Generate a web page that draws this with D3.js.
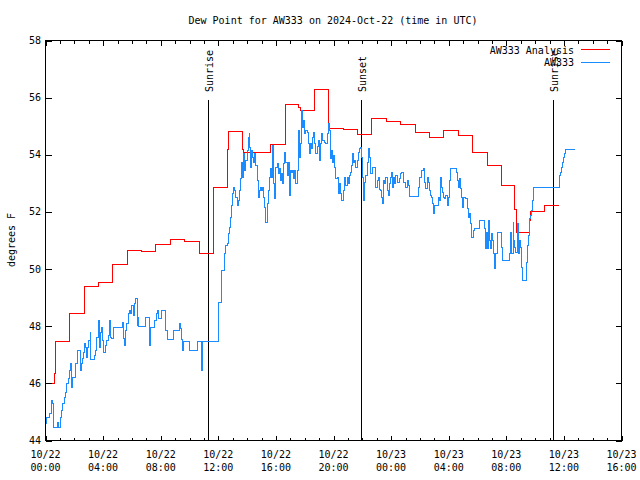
<!DOCTYPE html>
<html><head><meta charset="utf-8">
<script src="https://cdn.jsdelivr.net/npm/d3@7"></script>
<style>
body{margin:0;background:#fff}
svg{display:block}
text{font-family:"DejaVu Sans Mono","Liberation Mono",monospace;font-size:10px;fill:#000}
</style></head><body>
<svg id="c" width="640" height="480"></svg>
<script>
const titleText = "Dew Point for AW333 on 2024-Oct-22 (time in UTC)";
const yLabelText = "degrees F";
const xTickHours = [0,4,8,12,16,20,24,28,32,36,40];
const xTickDates = ["10/22","10/22","10/22","10/22","10/22","10/22","10/23","10/23","10/23","10/23","10/23"];
const xTickTimes = ["00:00","04:00","08:00","12:00","16:00","20:00","00:00","04:00","08:00","12:00","16:00"];
const yTicks = [44,46,48,50,52,54,56,58];
const eventNames = ["Sunrise","Sunset","Sunrise"];
const eventHours = [11.29,21.94,35.25];
const seriesNames = ["AW333 Analysis","AW333"];
const seriesColors = ["#ff0000","#1a8cff"];

// [hours since 10/22 00:00 UTC, dew point F]
const analysis = [[0,46.0],[0.6,46.33],[0.67,47.09],[0.72,47.46],[1.69,48.43],[2.68,49.39],[3.7,49.52],[4.68,50.16],[5.67,50.65],[6.66,50.6],[7.66,50.85],[8.66,51.02],[9.66,50.95],[10.66,50.56],[11.64,51.67],[11.7,52.84],[12.61,54.17],[12.7,54.81],[13.65,54.6],[13.7,54.2],[13.75,54.07],[15.6,54.36],[16.66,55.75],[17.6,55.65],[17.7,55.55],[18.66,56.29],[19.66,54.91],[20.66,54.88],[21.66,54.71],[22.66,55.26],[23.66,55.18],[24.66,55.06],[25.66,54.77],[26.66,54.62],[27.66,54.85],[28.66,54.67],[29.66,54.09],[30.66,53.63],[31.66,52.93],[32.6,52.1],[32.7,51.29],[33.62,51.7],[33.68,52.01],[34.66,52.21],[35.66,52.21]];

const observed = [[0,44.58],[0.1,44.82],[0.3,44.96],[0.41,45.4],[0.5,45.28],[0.58,44.47],[0.83,44.64],[0.92,44.47],[1.04,44.82],[1.13,45.05],[1.2,45.28],[1.29,45.51],[1.36,45.69],[1.46,45.98],[1.57,46.16],[1.64,46.45],[1.73,46.68],[1.8,45.87],[1.87,46.22],[2.06,46.57],[2.1,46.68],[2.2,47.15],[2.4,46.45],[2.47,46.68],[2.54,46.86],[2.64,47.09],[2.71,47.38],[2.77,47.27],[2.84,46.92],[2.91,47.27],[3.01,47.5],[3.1,47.79],[3.12,47.27],[3.15,46.82],[3.42,46.97],[3.49,47.15],[3.56,47.62],[3.65,48.2],[3.72,47.27],[3.79,47.79],[3.86,47.97],[3.96,47.5],[4.0,47.09],[4.19,47.33],[4.26,47.5],[4.35,47.67],[4.47,48.2],[4.53,47.62],[4.6,47.56],[4.74,47.97],[5.34,48.14],[5.39,47.56],[5.51,47.33],[5.55,47.85],[5.62,48.08],[5.74,48.43],[5.81,48.55],[5.9,48.43],[5.99,48.72],[6.09,48.37],[6.16,48.78],[6.27,48.96],[6.36,48.03],[6.43,48.32],[6.48,47.99],[6.94,48.32],[7.2,47.33],[7.29,47.97],[7.59,48.2],[7.71,48.43],[7.8,48.55],[7.87,48.26],[8.03,48.55],[8.35,47.85],[8.45,47.52],[8.91,47.85],[9.28,48.08],[9.37,47.91],[9.44,47.52],[9.51,47.15],[9.58,47.46],[10.02,47.15],[10.53,47.46],[10.81,46.97],[10.85,46.45],[10.88,47.46],[12.03,48.84],[12.2,49.95],[12.45,50.54],[12.52,50.83],[12.61,50.88],[12.68,51.23],[12.75,51.47],[12.84,51.82],[12.91,52.22],[12.98,52.63],[13.08,52.87],[13.15,52.75],[13.22,52.52],[13.31,52.22],[13.38,52.4],[13.45,52.75],[13.52,53.16],[13.59,53.74],[13.68,53.2],[13.72,53.74],[13.75,54.03],[13.84,53.45],[13.91,53.8],[14.0,54.15],[14.07,54.62],[14.14,54.73],[14.18,54.27],[14.23,53.57],[14.3,54.15],[14.37,53.92],[14.46,53.74],[14.53,54.03],[14.6,53.63],[14.7,53.1],[14.77,52.52],[14.84,52.75],[14.93,52.87],[15.0,52.75],[15.07,52.87],[15.16,52.52],[15.23,52.17],[15.3,51.64],[15.39,52.28],[15.46,52.75],[15.53,53.22],[15.62,53.51],[15.69,53.22],[15.76,54.32],[15.85,52.98],[15.92,52.46],[15.99,53.57],[16.09,53.68],[16.16,53.33],[16.22,53.51],[16.32,53.1],[16.39,53.33],[16.46,52.98],[16.55,53.68],[16.62,54.09],[16.69,53.74],[16.78,53.27],[16.85,53.74],[16.92,52.58],[17.01,53.45],[17.08,53.39],[17.15,53.45],[17.24,53.16],[17.31,53.45],[17.38,52.98],[17.47,53.45],[17.54,54.85],[17.61,53.92],[17.71,54.38],[17.78,55.55],[17.84,54.97],[17.94,55.2],[18.01,54.73],[18.08,54.85],[18.17,54.79],[18.24,54.38],[18.31,54.03],[18.4,54.38],[18.47,54.21],[18.54,54.62],[18.63,54.79],[18.7,54.38],[18.77,54.03],[18.86,54.3],[18.93,54.5],[19.0,53.8],[19.09,54.38],[19.16,54.73],[19.23,54.5],[19.4,54.44],[19.47,54.38],[19.56,54.73],[19.63,55.08],[19.7,54.85],[19.79,53.86],[19.86,54.15],[19.93,53.74],[20.02,53.97],[20.09,53.57],[20.16,53.16],[20.25,53.22],[20.32,52.63],[20.39,52.98],[20.48,52.63],[20.55,52.4],[20.72,52.75],[20.78,53.22],[20.85,52.92],[20.95,53.22],[21.02,52.98],[21.09,53.27],[21.18,53.39],[21.25,53.62],[21.32,54.03],[21.41,53.74],[21.48,53.8],[21.55,53.57],[21.64,53.8],[21.71,54.09],[21.78,54.21],[21.87,54.27],[21.94,53.92],[22.01,53.22],[22.1,52.4],[22.17,53.04],[22.24,53.27],[22.34,53.74],[22.41,54.21],[22.47,53.92],[22.52,53.92],[22.59,53.33],[22.71,53.57],[22.87,53.57],[22.94,52.87],[23.03,53.1],[23.1,53.22],[23.17,52.8],[23.26,52.75],[23.33,52.52],[23.4,52.28],[23.49,53.1],[23.56,52.98],[23.63,53.22],[23.72,52.75],[23.79,52.58],[23.86,52.98],[23.96,53.22],[24.02,53.39],[24.09,52.87],[24.19,53.22],[24.26,52.98],[24.33,53.27],[24.42,53.04],[24.56,53.16],[24.65,53.33],[24.72,53.39],[24.88,53.04],[25.02,52.87],[25.11,53.1],[25.18,52.94],[25.25,52.54],[25.88,52.85],[25.95,53.22],[26.11,53.45],[26.27,53.51],[26.34,53.04],[26.41,52.81],[26.5,53.22],[26.57,53.04],[26.64,52.75],[26.73,52.58],[26.8,52.52],[26.87,52.28],[26.96,51.96],[27.03,52.22],[27.27,52.52],[27.33,52.4],[27.43,53.22],[27.5,52.87],[27.57,52.69],[27.66,52.52],[27.73,52.46],[27.8,52.58],[27.89,52.22],[27.96,52.52],[28.03,53.1],[28.12,53.51],[28.54,53.39],[28.58,53.1],[28.65,52.87],[28.72,53.16],[28.82,52.81],[28.89,52.52],[28.95,52.17],[29.05,52.5],[29.19,52.46],[29.28,52.11],[29.35,51.82],[29.42,51.93],[29.51,51.58],[29.58,51.12],[29.74,51.35],[29.81,51.41],[30.16,51.7],[30.51,51.41],[30.58,50.71],[30.62,51.29],[30.67,50.71],[30.74,51.7],[30.81,51.0],[30.9,50.71],[30.97,51.23],[31.04,51.0],[31.13,50.53],[31.2,50.01],[31.27,50.53],[31.36,51.29],[31.66,50.76],[31.73,50.3],[32.24,50.53],[32.31,51.29],[32.38,50.53],[32.47,51.64],[32.52,51.0],[32.59,50.76],[32.66,50.59],[32.75,51.58],[32.82,50.53],[32.89,51.0],[32.98,50.76],[33.05,50.07],[33.12,49.6],[33.4,50.24],[33.45,50.82],[33.52,51.17],[33.59,51.76],[33.68,51.87],[33.75,52.05],[33.82,52.4],[33.91,52.87],[35.6,52.87],[35.67,53.1],[35.71,53.27],[35.76,53.39],[35.83,53.57],[35.9,53.74],[35.99,53.92],[36.06,54.04],[36.13,54.17],[36.76,54.17]];

const svg = d3.select("#c");
const x = d3.scaleLinear().domain([0,40]).range([45.5,621.5]);
const y = d3.scaleLinear().domain([44,58]).range([440.5,40.5]);
const L = 45.5, R = 621.5, T = 40.5, B = 440.5;

svg.append("rect").attr("width",640).attr("height",480).attr("fill","#fff");

// title
svg.append("text").attr("x",333).attr("y",20).attr("text-anchor","middle")
  .attr("dominant-baseline","central").text(titleText);

// y label
svg.append("text").attr("transform","translate(11,240) rotate(-90)")
  .attr("text-anchor","middle").attr("dominant-baseline","central").text(yLabelText);

const g = svg.append("g").attr("shape-rendering","crispEdges");

// axes with inward ticks
const minorHours = d3.range(0,41,1).filter(h => !xTickHours.includes(h));
const ax = svg.append("g").attr("shape-rendering","crispEdges");
const axB = d3.axisBottom(x).tickValues(xTickHours).tickSizeInner(-5).tickSizeOuter(0).tickFormat("");
const axBm = d3.axisBottom(x).tickValues(minorHours).tickSizeInner(-3).tickSizeOuter(0).tickFormat("");
const axT = d3.axisTop(x).tickValues(xTickHours).tickSizeInner(-5).tickSizeOuter(0).tickFormat("");
const axTm = d3.axisTop(x).tickValues(minorHours).tickSizeInner(-3).tickSizeOuter(0).tickFormat("");
const axL = d3.axisLeft(y).tickValues(yTicks).tickSizeInner(-6).tickSizeOuter(0).tickFormat("");
const axR = d3.axisRight(y).tickValues(yTicks).tickSizeInner(-6).tickSizeOuter(0).tickFormat("");
[[axB,`translate(0,${B})`],[axBm,`translate(0,${B})`],[axT,`translate(0,${T})`],[axTm,`translate(0,${T})`],[axL,`translate(${L},0)`],[axR,`translate(${R},0)`]]
 .forEach(([a,t]) => {
   const s = ax.append("g").attr("transform",t).call(a);
   s.select(".domain").remove();
   s.selectAll("line").attr("stroke","#000");
 });
ax.append("rect").attr("x",L).attr("y",T).attr("width",R-L).attr("height",B-T)
  .attr("fill","none").attr("stroke","#000");

// x tick labels (two lines)
const xl = svg.append("g");
xTickHours.forEach((h,i) => {
  const t = xl.append("text").attr("x",x(h)).attr("text-anchor","middle");
  t.append("tspan").attr("x",x(h)).attr("y",458).text(xTickDates[i]);
  t.append("tspan").attr("x",x(h)).attr("y",471).text(xTickTimes[i]);
});
// y tick labels
svg.append("g").selectAll("text").data(yTicks).join("text")
  .attr("x",41).attr("y",d=>y(d)).attr("text-anchor","end")
  .attr("dominant-baseline","central").text(d=>d);

// sunrise / sunset markers
eventHours.forEach((h,i) => {
  g.append("line").attr("x1",x(h)).attr("x2",x(h)).attr("y1",100).attr("y2",B)
    .attr("stroke","#000");
  svg.append("text").attr("transform",`translate(${x(h)+1.5},92) rotate(-90)`)
    .attr("text-anchor","start").attr("dominant-baseline","central").text(eventNames[i]);
});

// series
const line = d3.line().curve(d3.curveStepAfter).x(d=>x(d[0])).y(d=>y(d[1]));
[analysis, observed].forEach((s,i) => {
  g.append("path").datum(s).attr("d",line).attr("fill","none")
    .attr("stroke",seriesColors[i]).attr("stroke-width",1);
});

// legend
seriesNames.forEach((n,i) => {
  const yy = 50 + i*12.7;
  svg.append("text").attr("x",574).attr("y",yy).attr("text-anchor","end")
    .attr("dominant-baseline","central").text(n);
  g.append("line").attr("x1",581).attr("x2",610).attr("y1",Math.round(yy)-0.5).attr("y2",Math.round(yy)-0.5)
    .attr("stroke",seriesColors[i]);
});
</script>
</body></html>
